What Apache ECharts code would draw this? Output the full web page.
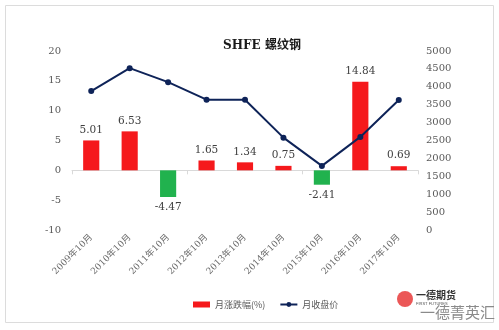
<!DOCTYPE html>
<html><head><meta charset="utf-8">
<script src="https://cdn.jsdelivr.net/npm/echarts@6/dist/echarts.min.js"></script>
<style>html,body{margin:0;padding:0;background:#fff}#c{width:499px;height:330px}</style>
</head><body><div id="c"></div>
<script>
const categories = ['2009年10月','2010年10月','2011年10月','2012年10月','2013年10月','2014年10月','2015年10月','2016年10月','2017年10月'];
const changePct = [5.01, 6.53, -4.47, 1.65, 1.34, 0.75, -2.41, 14.84, 0.69];
const closePrice = [3880, 4520, 4130, 3640, 3640, 2580, 1790, 2600, 3630];
const leftTicks = [-10, 20, 5];
const rightTicks = [0, 5000, 500];

const serif = '"DejaVu Serif", "Liberation Serif", serif';
const chart = echarts.init(document.getElementById('c'), null, {renderer:'canvas'});
chart.setOption({
  animation:false,
  backgroundColor:'#fff',
  title:{text:'SHFE 螺纹钢', left:257, top:35, textAlign:'center',
    textStyle:{fontSize:12, fontWeight:'bold', color:'#1a1a1a', fontFamily:'"DejaVu Serif", "Noto Sans CJK SC", serif'}},
  grid:{left:72, right:81, top:51, bottom:100},
  legend:{left:188, top:295, itemGap:14, itemWidth:17, itemHeight:6,
    textStyle:{fontSize:9, color:'#595959', fontFamily:'"Noto Sans CJK SC", sans-serif'},
    data:[{name:'月涨跌幅(%)', icon:'rect'}, {name:'月收盘价'}]},
  xAxis:[
    {type:'category', data:categories, axisLine:{onZero:true, lineStyle:{color:'#d9d9d9'}},
     axisTick:{show:true, length:4, lineStyle:{color:'#d9d9d9'}}, axisLabel:{show:false}},
    {type:'category', data:categories, position:'bottom', axisLine:{show:false}, axisTick:{show:false},
     axisLabel:{rotate:45, fontSize:9, margin:6, color:'#6a6a6a', fontFamily:'"DejaVu Serif", "Noto Sans CJK SC", serif'}}
  ],
  yAxis:[
    {type:'value', min:leftTicks[0], max:leftTicks[1], interval:leftTicks[2], splitLine:{show:false},
     axisLine:{show:false}, axisTick:{show:false},
     axisLabel:{fontSize:10, color:'#595959', margin:11, fontFamily:serif}},
    {type:'value', min:rightTicks[0], max:rightTicks[1], interval:rightTicks[2], splitLine:{show:false},
     axisLine:{show:false}, axisTick:{show:false},
     axisLabel:{fontSize:10, color:'#595959', margin:8, fontFamily:serif, formatter:v=>String(v)}}
  ],
  series:[
    {name:'月涨跌幅(%)', type:'bar', xAxisIndex:0, yAxisIndex:0, barWidth:'42%',
     itemStyle:{color:'#f5191c'},
     data:changePct.map(v=>({value:v, itemStyle:{color: v<0 ? '#21b24e' : '#f5191c'},
       label:{position: v<0 ? 'bottom' : 'top'}})),
     label:{show:true, fontSize:10.5, color:'#404040', fontFamily:serif, distance:5}},
    {name:'月收盘价', type:'line', xAxisIndex:0, yAxisIndex:1, data:closePrice,
     symbol:'circle', symbolSize:6, lineStyle:{color:'#0e2358', width:2}, itemStyle:{color:'#0e2358'}}
  ],
  graphic:[
    {type:'rect', shape:{x:5.5, y:5.5, width:488, height:317}, style:{fill:'none', stroke:'#dcdcdc', lineWidth:1}, z:-1},
    {type:'circle', shape:{cx:405, cy:299, r:8}, style:{fill:'#e8393a', opacity:0.85}},
    {type:'text', left:416, top:290, style:{text:'一德期货', fontSize:10, fontWeight:'bold', fill:'#333', fontFamily:'"Noto Sans CJK SC"'}},
    {type:'text', left:416, top:302, style:{text:'FIRST FUTURES', fontSize:4, fill:'#555', fontFamily:'sans-serif'}},
    {type:'text', left:420, top:305, style:{text:'一德菁英汇', fontSize:15, fill:'#8a8a8a', fontFamily:'"Noto Sans CJK SC"'}}
  ]
});
</script></body></html>
